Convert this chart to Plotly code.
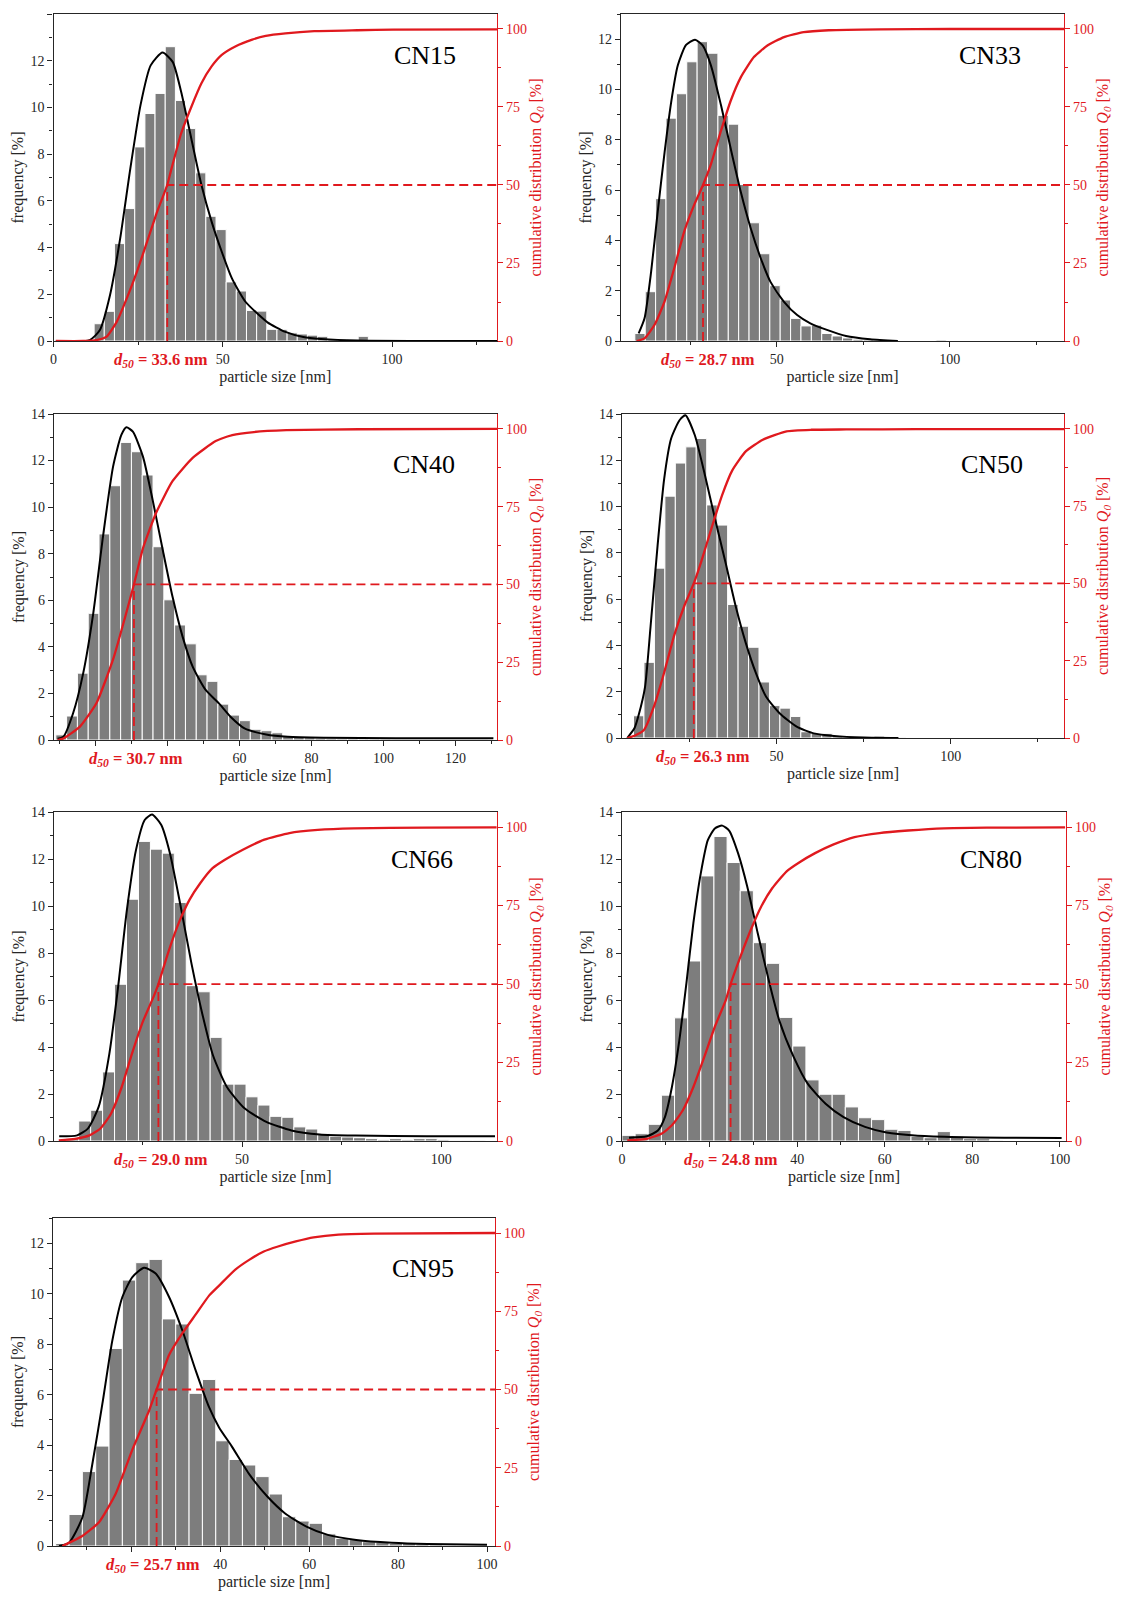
import plotly.graph_objects as go

RED = "#e0191e"
GREY = "#7d7d7d"
INK = "#262626"
SERIF = "Liberation Serif"
PAGE_W, PAGE_H = 1122, 1599
OFF = 8  # default body margin of the html page
W, H = PAGE_W - OFF, PAGE_H - OFF
BIN = 3  # histogram bin width [nm]

# ---- values ---------------------------------------------------------------
names = ["CN15", "CN33", "CN40", "CN50", "CN66", "CN80", "CN95"]
d50 = [33.6, 28.7, 30.7, 26.3, 29.0, 24.8, 25.7]
bin_start = [12, 9, 9, 9, 6, 0, 3]

# CN15
cn15_freq = [0.74, 1.27, 4.17, 5.67, 8.31, 9.74, 10.6, 12.6, 10.3, 9.1, 7.2, 5.34, 4.77, 2.53,
             2.14, 1.31, 1.28, 0.5, 0.5, 0.35, 0.3, 0.25, 0.2, 0.1, 0.05, 0.05, 0.2]
cn15_fit_x = [0.7, 10.7, 13.7, 16.7, 19.7, 22.7, 25.7, 28.7, 32.2, 35.2, 37.7, 40.7, 43.7, 46.7,
              49.7, 52.7, 56.7, 60.7, 63.2, 68.5, 73.8, 79, 89.7, 131]
cn15_fit_y = [0, 0.04, 0.47, 1.97, 4.39, 7.39, 10.1, 11.8, 12.35, 11.95, 10.67, 8.67, 6.68, 5.11,
              3.82, 2.68, 1.68, 1.11, 0.8, 0.39, 0.17, 0.09, 0.02, 0]
cn15_cum_x = [0.7, 8.7, 12.7, 15.7, 18.7, 21.7, 24.7, 27.7, 30.7, 33.6, 34.7, 37.7, 40.7, 43.7,
              46.7, 49.7, 53.7, 58.7, 62.7, 68.5, 77, 89.7, 100.3, 131]
cn15_cum_y = [0, 0, 0.3, 1.4, 6.2, 13.8, 22.4, 32, 41.7, 50, 54.6, 66.5, 75, 82.6,
              88, 91.7, 94.4, 96.6, 97.8, 98.6, 99.3, 99.6, 99.8, 99.9]

# CN33
cn33_freq = [0.3, 1.96, 5.66, 8.86, 9.83, 11.1, 11.9, 11.44, 8.97, 8.62, 6.22, 4.7, 3.47, 2.2,
             1.63, 0.9, 0.6, 0.63, 0.3, 0.2, 0.12, 0.07, 0.05, 0.03, 0.02, 0, 0, 0, 0, 0.04]
cn33_fit_x = [10.1, 11.8, 13.7, 15.6, 17.6, 19.5, 21.4, 23.8, 26.4, 28.6, 31, 33.9, 36.7, 39.6,
              42.5, 45.4, 48.2, 52.1, 55.9, 59.7, 64.5, 70, 77, 85]
cn33_fit_y = [0.3, 0.9, 2.75, 5.13, 7.51, 9.5, 10.95, 11.77, 11.98, 11.75, 10.95, 9.37, 7.65, 5.93,
              4.47, 3.28, 2.35, 1.56, 1.03, 0.7, 0.44, 0.2, 0.07, 0]
cn33_cum_x = [9.5, 11.8, 14.7, 17.6, 20.4, 23.3, 26.2, 28.7, 31, 33.9, 36.7, 39.6, 43.4, 47.3,
              52.1, 57.8, 65, 80, 100, 133]
cn33_cum_y = [0, 0.86, 5.2, 12.7, 23.4, 35.2, 43.8, 50, 56.7, 67.4, 77, 84.5, 91, 94.7,
              97.4, 99, 99.6, 99.9, 100, 100]

# CN40
cn40_freq = [0.22, 1.03, 2.87, 5.44, 8.85, 10.92, 12.78, 12.38, 11.38, 8.3, 6.02, 4.94, 4.13, 2.8,
             2.52, 1.54, 1.07, 0.83, 0.46, 0.4, 0.31, 0.17, 0.12, 0.1, 0.08, 0.06, 0.05, 0.05,
             0.04, 0.04, 0.04, 0.03, 0.03, 0.03, 0.03, 0.03, 0.03, 0.03, 0.03, 0.03]
cn40_fit_x = [9.5, 11.1, 13.8, 16.6, 19.4, 22.1, 24.9, 27.2, 28.6, 30.4, 33.2, 35.9, 38.7, 41.4,
              44.2, 47, 50.6, 54.3, 57.5, 61.4, 67.4, 73.4, 83.4, 103.4, 130.5]
cn40_fit_y = [0.05, 0.14, 1.15, 2.86, 5.44, 8.73, 11.74, 13.1, 13.43, 13.24, 12.17, 10.3, 8.16, 6.16,
              4.44, 3.15, 2.15, 1.57, 1.0, 0.5, 0.24, 0.14, 0.1, 0.08, 0.07]
cn40_cum_x = [9.5, 11.1, 15.7, 20.3, 24.9, 28.6, 30.7, 33.2, 36.8, 41.4, 47, 53.4, 58, 64, 73, 93, 131.5]
cn40_cum_y = [0, 0.5, 4.3, 11.9, 25.9, 41, 50, 61.6, 72.9, 83.2, 90.7, 96.1, 98, 99, 99.6, 99.9, 100]

# CN50
cn50_freq = [0.96, 3.27, 7.34, 10.45, 11.88, 12.58, 12.94, 10.07, 9.2, 5.77, 4.83, 3.92, 2.42, 1.4,
             1.29, 0.93, 0.27, 0.2, 0.2, 0.07, 0.03, 0.02, 0.02, 0.08, 0.02, 0.03]
cn50_fit_x = [7.2, 9.3, 10.5, 12.3, 13.9, 15.9, 17.8, 19.8, 22.2, 23.9, 26.6, 29.5, 32.4, 35.4,
              38.3, 41.2, 44.1, 47, 50.9, 55.8, 60.7, 66.5, 75, 85]
cn50_fit_y = [0, 0.43, 1.0, 2.2, 4.83, 8.3, 11.2, 12.94, 13.73, 13.95, 13.08, 11.35, 9.46, 7.58,
              5.7, 4.11, 2.81, 1.79, 1.07, 0.49, 0.2, 0.09, 0.02, 0]
cn50_cum_x = [7.2, 9.3, 12, 14.9, 17.8, 20.7, 23.7, 26.3, 28.5, 31.5, 34.4, 37.3, 41.2, 46.1,
              52.9, 60, 70, 90, 132.5]
cn50_cum_y = [0, 0.75, 2.6, 10.3, 21.2, 33.3, 43.1, 50, 57.3, 68.3, 78.5, 86.5, 92.7, 96.5,
              99.2, 99.7, 99.8, 99.9, 99.9]

# CN66
cn66_freq = [0.1, 0.85, 1.31, 2.94, 6.67, 10.29, 12.75, 12.42, 12.25, 10.15, 6.61, 6.35, 4.41, 2.42,
             2.42, 1.88, 1.53, 1.05, 1.01, 0.6, 0.51, 0.31, 0.2, 0.17, 0.14, 0.1, 0.05, 0.1, 0.05,
             0.1, 0.1, 0.05, 0.03, 0.03, 0.03]
cn66_fit_x = [4.1, 8.6, 11.3, 14, 16.7, 18.9, 21.1, 23.4, 25.6, 27.4, 29.7, 31.9, 34.6, 37.3,
              40, 42.7, 46.2, 50.7, 56.1, 62.4, 69.5, 78.5, 96.4, 113.5]
cn66_fit_y = [0.2, 0.24, 0.53, 1.45, 3.72, 6.57, 9.84, 12.4, 13.67, 13.89, 13.46, 12.25, 9.98, 7.56,
              5.43, 3.65, 2.3, 1.38, 0.81, 0.45, 0.28, 0.23, 0.2, 0.2]
cn66_cum_x = [4, 8.1, 11.7, 14.4, 17.1, 19.8, 22.4, 25.1, 27.8, 29.0, 31.4, 34.1, 36.8, 39.5,
              42.6, 45.7, 50.2, 55.6, 61.9, 69, 78, 96, 113.9]
cn66_cum_y = [0.2, 0.7, 1.8, 3.9, 8.7, 17.2, 27.9, 38, 46, 50, 59.8, 69.4, 76.8, 82.1,
              86.9, 89.6, 92.8, 96, 98.1, 99.1, 99.6, 99.8, 99.9]

# CN80
cn80_freq = [0.24, 0.31, 0.71, 1.95, 5.24, 7.66, 11.28, 12.96, 11.85, 10.65, 8.44, 7.56, 5.26, 4.04,
             2.6, 1.99, 1.99, 1.45, 0.99, 0.91, 0.5, 0.45, 0.2, 0.14, 0.4, 0.2, 0.1, 0.1, 0.03]
cn80_fit_x = [1.6, 5.7, 8.2, 9.8, 11.4, 13.1, 14.7, 16.3, 18, 19.6, 21.2, 22.9, 24.5, 26.5,
              28.6, 31, 33.5, 35.9, 39.2, 42.4, 46.5, 50.6, 55.5, 60.4, 66.9, 75.1, 87.3, 100.4]
cn80_fit_y = [0.14, 0.2, 0.45, 1.02, 2.3, 4.29, 6.7, 9.27, 11.4, 12.8, 13.3, 13.42, 13.2, 12.25,
              10.83, 8.84, 6.85, 5.14, 3.58, 2.44, 1.59, 1.02, 0.6, 0.36, 0.23, 0.17, 0.14, 0.13]
cn80_cum_x = [1.2, 5.7, 9, 11.4, 13.9, 16.3, 18.8, 21.2, 23.7, 24.8, 26.9, 29.4, 31.8, 34.3,
              37.6, 40.2, 44.1, 48.2, 53.1, 58.8, 65.3, 73.5, 83.3, 101.2]
cn80_cum_y = [0.2, 0.7, 2.3, 5, 9.8, 17.2, 26.8, 36.4, 44.9, 50, 58.2, 67.2, 74.7, 80.5,
              85.9, 88.5, 91.7, 94.4, 96.8, 98.1, 98.9, 99.6, 99.8, 99.9]

# CN95
cn95_freq = [0.1, 1.25, 2.95, 3.96, 7.83, 10.54, 11.23, 11.36, 9.0, 8.8, 6.05, 6.6, 4.17, 3.43,
             3.21, 2.75, 2.06, 1.16, 0.99, 0.9, 0.48, 0.3, 0.26, 0.17, 0.15, 0.1, 0.1, 0.08, 0.05, 0.03]
cn95_fit_x = [3.75, 6, 9, 11.25, 13.5, 15.75, 18, 20.25, 22.9, 25.5, 28.5, 31.5, 34.5, 37.5,
              39.75, 42.6, 46.6, 50.6, 54.6, 59.4, 64.2, 70.6, 78.6, 86.6, 100]
cn95_fit_y = [0, 0.13, 1.13, 3.25, 5.63, 8.15, 9.87, 10.66, 11.03, 10.8, 9.87, 8.54, 6.95, 5.5,
              4.7, 3.95, 2.83, 1.96, 1.29, 0.77, 0.44, 0.24, 0.13, 0.08, 0.05]
cn95_cum_x = [4.5, 9, 12.75, 16.5, 20.25, 24, 25.7, 28.5, 31.5, 34.5, 37.5, 39.75, 43.4, 46.6,
              49.8, 53, 57, 61, 66.6, 74.6, 101.8]
cn95_cum_y = [0, 3.2, 7.6, 16.7, 30.8, 43.2, 50, 61, 68, 74, 80, 83.2, 88.3, 91.5,
              94.1, 95.7, 97.3, 98.6, 99.5, 99.8, 100]

freqs = [cn15_freq, cn33_freq, cn40_freq, cn50_freq, cn66_freq, cn80_freq, cn95_freq]
fits = [(cn15_fit_x, cn15_fit_y), (cn33_fit_x, cn33_fit_y), (cn40_fit_x, cn40_fit_y),
        (cn50_fit_x, cn50_fit_y), (cn66_fit_x, cn66_fit_y), (cn80_fit_x, cn80_fit_y),
        (cn95_fit_x, cn95_fit_y)]
cums = [(cn15_cum_x, cn15_cum_y), (cn33_cum_x, cn33_cum_y), (cn40_cum_x, cn40_cum_y),
        (cn50_cum_x, cn50_cum_y), (cn66_cum_x, cn66_cum_y), (cn80_cum_x, cn80_cum_y),
        (cn95_cum_x, cn95_cum_y)]

# labelled x ticks (the ones under the d50 label are not printed in the original)
x_ticks = [[0, 50, 100], [50, 100], [60, 80, 100, 120], [50, 100], [50, 100],
           [0, 40, 60, 80, 100], [40, 60, 80, 100]]

# ---- layout of the panels (pixels in the 1122x1599 page) -------------------
panels = [
    dict(box=(53.5, 497, 14, 341), xr=(0, 131), ymax=14, step=50, lab=(0.838, 0.874), sh=-6),
    dict(box=(621, 1064, 14, 341), xr=(5, 133), ymax=13, step=50, lab=(0.832, 0.874), sh=5),
    dict(box=(54, 497, 414, 740), xr=(8.5, 131.5), ymax=14, step=20, lab=(0.836, 0.844), sh=2),
    dict(box=(622, 1064, 414, 738), xr=(5.7, 132.5), ymax=14, step=50, lab=(0.836, 0.843), sh=9),
    dict(box=(54, 497, 812, 1141), xr=(2.8, 114), ymax=14, step=50, lab=(0.831, 0.855), sh=3),
    dict(box=(622, 1066, 812, 1141), xr=(0, 101.4), ymax=14, step=20, lab=(0.831, 0.855), sh=0),
    dict(box=(53, 495, 1218, 1546), xr=(2.4, 101.8), ymax=13, step=20, lab=(0.837, 0.847), sh=-4),
]

tickfont = dict(family=SERIF, size=14, color=INK)
titlefont = dict(family=SERIF, size=16, color=INK)

fig = go.Figure()
layout = {}
annotations = []

for k, p in enumerate(panels):
    xid = "x" if k == 0 else f"x{k+1}"
    yid = "y" if k == 0 else f"y{2*k+1}"
    y2id = f"y{2*k+2}"
    x0, x1, top, bot = [v - OFF for v in p["box"]]

    centers = [bin_start[k] + BIN * i + BIN / 2 for i in range(len(freqs[k]))]
    fig.add_trace(go.Bar(x=centers, y=freqs[k], width=BIN, xaxis=xid, yaxis=yid,
                         marker=dict(color=GREY, line=dict(color="white", width=1))))
    fx, fy = fits[k]
    fig.add_trace(go.Scatter(x=fx, y=fy, mode="lines", xaxis=xid, yaxis=yid,
                             line=dict(color="black", width=2, shape="spline", smoothing=0.6)))
    cx, cy = cums[k]
    fig.add_trace(go.Scatter(x=cx, y=cy, mode="lines", xaxis=xid, yaxis=y2id,
                             line=dict(color=RED, width=2.3, shape="spline", smoothing=0.5)))
    fig.add_trace(go.Scatter(x=[d50[k], d50[k], p["xr"][1]], y=[0, 50, 50], mode="lines",
                             xaxis=xid, yaxis=y2id,
                             line=dict(color=RED, width=1.8, dash="9px,5px")))

    # every major tick position inside the range gets a tick mark
    majors = [v for v in range(0, 200, p["step"]) if p["xr"][0] <= v <= p["xr"][1]]
    layout["xaxis" if k == 0 else f"xaxis{k+1}"] = dict(
        domain=[x0 / W, x1 / W], anchor=yid, range=list(p["xr"]),
        tickmode="array", tickvals=majors,
        ticktext=[str(v) if v in x_ticks[k] else "" for v in majors],
        ticks="outside", ticklen=5, tickcolor=INK,
        minor=dict(tick0=0, dtick=p["step"] / 2, ticks="outside", ticklen=3, tickcolor=INK),
        showline=True, linecolor=INK, linewidth=1.2, mirror=True,
        showgrid=False, zeroline=False, tickfont=tickfont, automargin=False,
        title=dict(text="particle size [nm]", font=titlefont, standoff=4))
    layout["yaxis" if k == 0 else f"yaxis{2*k+1}"] = dict(
        domain=[1 - bot / H, 1 - top / H], anchor=xid, range=[0, p["ymax"]],
        dtick=2, ticks="outside", ticklen=5, tickcolor=INK,
        minor=dict(dtick=1, ticks="outside", ticklen=3, tickcolor=INK),
        showline=True, linecolor=INK, linewidth=1.2,
        showgrid=False, zeroline=False, tickfont=tickfont, automargin=False,
        title=dict(text="frequency [%]", font=titlefont, standoff=2))
    layout[f"yaxis{2*k+2}"] = dict(
        overlaying=yid, side="right", anchor=xid, range=[0, 104.8],
        dtick=25, ticks="outside", ticklen=5, tickcolor=RED,
        minor=dict(dtick=12.5, ticks="outside", ticklen=3, tickcolor=RED),
        showline=True, linecolor=RED, linewidth=1.2,
        showgrid=False, zeroline=False, automargin=False,
        tickfont=dict(family=SERIF, size=14, color=RED),
        title=dict(text="cumulative distribution <i>Q</i><sub><i>0</i></sub> [%]",
                   font=dict(family=SERIF, size=16, color=RED), standoff=3))

    annotations.append(dict(
        text=names[k], xref=f"{xid} domain", yref=f"{yid} domain",
        x=p["lab"][0], y=p["lab"][1], xanchor="center", yanchor="middle", showarrow=False,
        font=dict(family=SERIF, size=26, color="black")))
    annotations.append(dict(
        text=f"<b><i>d</i><sub><i>50</i></sub> = {d50[k]:.1f} nm</b>",
        xref=xid, yref=f"{yid} domain", x=d50[k], y=0, yshift=-19, xshift=p["sh"],
        xanchor="center", yanchor="middle", showarrow=False, bgcolor="white", borderpad=2,
        font=dict(family=SERIF, size=16.5, color=RED)))

fig.update_layout(**layout)
fig.update_layout(
    width=W, height=H, margin=dict(l=0, r=0, t=0, b=0),
    paper_bgcolor="white", plot_bgcolor="white",
    showlegend=False, hovermode=False, annotations=annotations,
    font=dict(family=SERIF, color=INK))

fig.write_html("out.html")
